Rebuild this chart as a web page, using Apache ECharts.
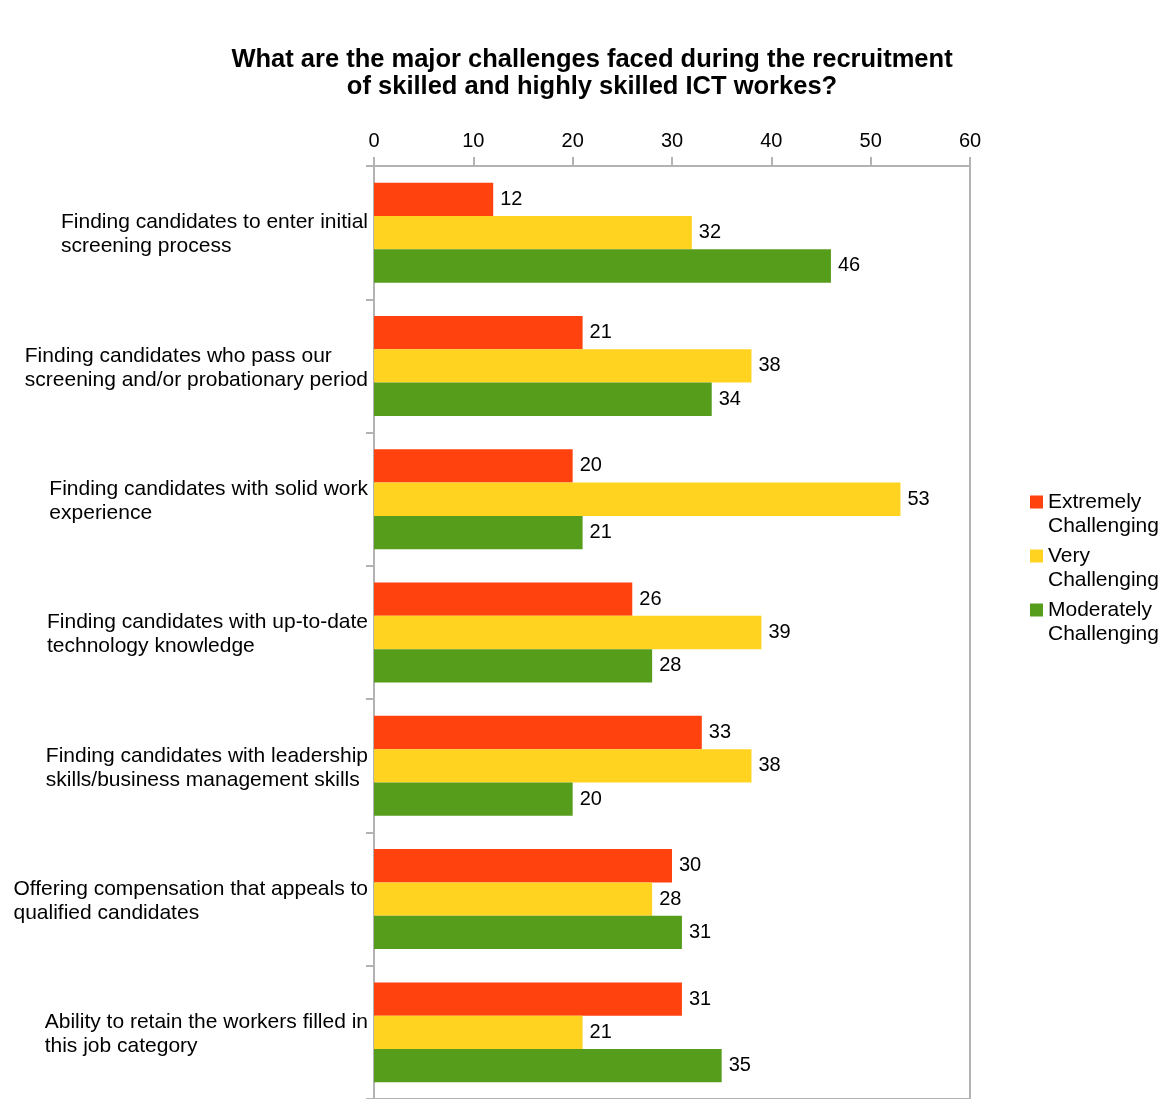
<!DOCTYPE html>
<html>
<head>
<meta charset="utf-8">
<script src="https://cdn.jsdelivr.net/npm/echarts@6/dist/echarts.min.js"></script>
<style>
  html, body { margin: 0; padding: 0; background: #ffffff; }
  #chart { width: 1169px; height: 1099px; }
</style>
</head>
<body>
<div id="chart"></div>
<script>
// Survey categories (top to bottom)
var categories = [
  'Finding candidates to enter initial\nscreening process',
  'Finding candidates who pass our\nscreening and/or probationary period',
  'Finding candidates with solid work\nexperience',
  'Finding candidates with up-to-date\ntechnology knowledge',
  'Finding candidates with leadership\nskills/business management skills',
  'Offering compensation that appeals to\nqualified candidates',
  'Ability to retain the workers filled in\nthis job category'
];

// Responses per challenge level
var extremelyChallenging = [12, 21, 20, 26, 33, 30, 31];
var veryChallenging = [32, 38, 53, 39, 38, 28, 21];
var moderatelyChallenging = [46, 34, 21, 28, 20, 31, 35];

var seriesNames = ['Extremely\nChallenging', 'Very\nChallenging', 'Moderately\nChallenging'];
var seriesColors = ['#ff420e', '#ffd320', '#579d1c'];

var FONT = '"Liberation Sans", Arial, Helvetica, sans-serif';

function makeSeries(name, values, color) {
  return {
    name: name,
    type: 'bar',
    data: values,
    barGap: '0%',
    barCategoryGap: '25%',
    itemStyle: { color: color },
    label: {
      show: true,
      position: 'right',
      distance: 7,
      color: '#000',
      fontFamily: FONT,
      fontSize: 20
    }
  };
}

var chart = echarts.init(document.getElementById('chart'), null, { renderer: 'canvas' });

chart.setOption({
  animation: false,
  backgroundColor: '#ffffff',
  title: {
    text: 'What are the major challenges faced during the recruitment\nof skilled and highly skilled ICT workes?',
    left: 592,
    textAlign: 'center',
    top: 46,
    padding: 0,
    textStyle: {
      fontFamily: FONT,
      fontWeight: 'bold',
      fontSize: 25.5,
      lineHeight: 27,
      color: '#000'
    }
  },
  legend: {
    orient: 'vertical',
    left: 1030,
    top: 490,
    padding: 0,
    itemGap: 6,
    itemWidth: 13,
    itemHeight: 48,
    // square sitting beside the first text line
    icon: 'path://M0,0M0,48M0,5.5H13V18.5H0Z',
    textStyle: {
      fontFamily: FONT,
      fontSize: 21,
      lineHeight: 24,
      color: '#000'
    },
    data: seriesNames
  },
  grid: {
    left: 374,
    top: 166,
    right: 199,
    bottom: -4,
    show: true,
    borderColor: '#b3b3b3',
    borderWidth: 2
  },
  xAxis: {
    type: 'value',
    position: 'top',
    min: 0,
    max: 60,
    interval: 10,
    axisLine: { show: true, lineStyle: { color: '#b3b3b3', width: 2 } },
    axisTick: { show: true, length: 9, lineStyle: { color: '#b3b3b3', width: 2 } },
    splitLine: { show: false },
    axisLabel: {
      margin: 15,
      color: '#000',
      fontFamily: FONT,
      fontSize: 20
    }
  },
  yAxis: {
    type: 'category',
    inverse: true,
    data: categories,
    axisLine: { show: true, lineStyle: { color: '#b3b3b3', width: 2 } },
    axisTick: { show: true, length: 8, lineStyle: { color: '#b3b3b3', width: 2 } },
    axisLabel: {
      margin: 6,
      align: 'right',
      padding: [4, 0, 0, 0],
      formatter: function (v) {
        return v.split('\n').map(function (line) { return '{a|' + line + '}'; }).join('\n');
      },
      rich: {
        a: {
          align: 'left',
          color: '#000',
          fontFamily: FONT,
          fontSize: 21,
          lineHeight: 24
        }
      }
    }
  },
  series: [
    makeSeries(seriesNames[0], extremelyChallenging, seriesColors[0]),
    makeSeries(seriesNames[1], veryChallenging, seriesColors[1]),
    makeSeries(seriesNames[2], moderatelyChallenging, seriesColors[2])
  ]
});
</script>
</body>
</html>
